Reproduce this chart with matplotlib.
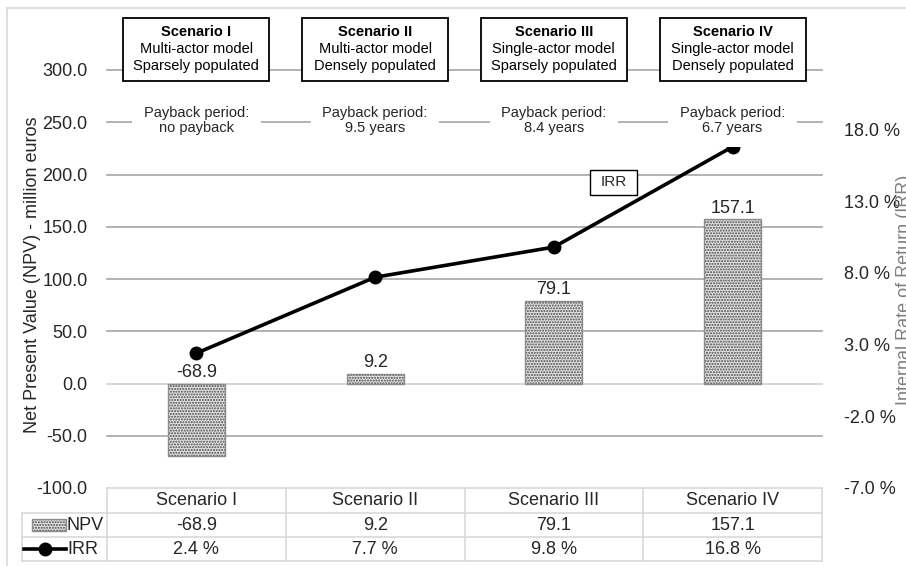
import matplotlib
matplotlib.use("Agg")
import matplotlib.pyplot as plt
from matplotlib.patches import Rectangle
from matplotlib.lines import Line2D
import numpy as np

plt.rcParams['font.family'] = ['Liberation Sans', 'DejaVu Sans']
plt.rcParams['hatch.linewidth'] = 1.0

scenarios = ['Scenario I', 'Scenario II', 'Scenario III', 'Scenario IV']
npv = [-68.9, 9.2, 79.1, 157.1]
irr = [2.4, 7.7, 9.8, 16.8]
models = ['Multi-actor model', 'Multi-actor model', 'Single-actor model', 'Single-actor model']
density = ['Sparsely populated', 'Densely populated', 'Sparsely populated', 'Densely populated']
payback = ['no payback', '9.5 years', '8.4 years', '6.7 years']
npv_ticks = [-100, -50, 0, 50, 100, 150, 200, 250, 300]
irr_ticks = [-7, -2, 3, 8, 13, 18]

W, H = 906, 566
fig = plt.figure(figsize=(W / 100, H / 100), dpi=100)


def fx(px):
    return px / W


def fy(py):
    return 1 - py / H


TXT = '#262626'
GRID = '#a6a6a6'
TBL = '#d9d9d9'
BAR_FACE = '#e2e2e2'
BAR_DOTS = '#4a4a4a'
left_px, right_px, top_px, bot_px = 107, 822, 70, 488
col_w = (right_px - left_px) / len(scenarios)

ax = fig.add_axes([fx(left_px), fy(bot_px), (right_px - left_px) / W, (bot_px - top_px) / H])
ax.set_xlim(-0.5, len(scenarios) - 0.5)
ax.set_ylim(-100, 300)
for s in ax.spines.values():
    s.set_visible(False)
ax.set_xticks([])
ax.set_yticks(npv_ticks)
ax.set_yticklabels([f'{t:.1f}' for t in npv_ticks])
ax.tick_params(axis='y', length=0, pad=14, labelsize=13, labelcolor=TXT)
ax.patch.set_alpha(0)

# horizontal gridlines (the -100 line is the top of the data table)
for t in npv_ticks:
    if t == -100:
        continue
    ax.axhline(t, color=('#d0d0d0' if t == 0 else GRID), lw=1.2, zorder=0, clip_on=False)

# NPV bars: stippled fill plus a thin outline
x = np.arange(len(scenarios))
ax.bar(x, npv, width=0.32, color=BAR_FACE, edgecolor=BAR_DOTS, hatch='......', lw=0, zorder=2)
ax.bar(x, npv, width=0.32, fill=False, edgecolor='#8c8c8c', lw=1.0, zorder=3)
for xi, v in zip(x, npv):
    ax.annotate(f'{v:.1f}', (xi, max(v, 0)), xytext=(0, 8), textcoords='offset points',
                ha='center', va='center', fontsize=13, color=TXT, zorder=4)

# IRR line on the secondary axis
ax2 = ax.twinx()
ax2.set_ylim(-7, 22.15)
ax2.set_yticks(irr_ticks)
ax2.set_yticklabels([f'{t:.1f} %' for t in irr_ticks])
ax2.tick_params(axis='y', length=0, pad=16, labelsize=13, labelcolor=TXT)
for s in ax2.spines.values():
    s.set_visible(False)
ax2.add_patch(Rectangle(((590 - left_px) / (right_px - left_px), (bot_px - 195) / (bot_px - top_px)),
                        47 / (right_px - left_px), 25 / (bot_px - top_px),
                        transform=ax2.transAxes, facecolor='white', edgecolor='black', lw=1.0, zorder=3))
ax2.text((613.5 - left_px) / (right_px - left_px), (bot_px - 182.5) / (bot_px - top_px), 'IRR',
         transform=ax2.transAxes, ha='center', va='center', fontsize=11, color=TXT, zorder=4)
ax2.plot(x, irr, color='black', lw=2.6, marker='o', ms=9, zorder=5)

# axis titles
fig.text(fx(33), fy(275), 'Net Present Value (NPV) - million euros', rotation=90,
         ha='center', va='center', fontsize=13, color=TXT)
fig.text(fx(896), fy(290), 'Internal Rate of Return (IRR)', rotation=90,
         ha='left', va='center', fontsize=13, color='#7f7f7f')

# scenario header boxes and payback notes
for i in range(len(scenarios)):
    cx = left_px + (i + 0.5) * col_w
    fig.add_artist(Rectangle((fx(cx - 73), fy(81)), 146 / W, 63 / H, transform=fig.transFigure,
                             facecolor='white', edgecolor='black', lw=1.3, zorder=2))
    fig.text(fx(cx), fy(32), scenarios[i], ha='center', va='center', fontsize=10.5,
             fontweight='bold', color='black', zorder=3)
    fig.text(fx(cx), fy(49), models[i], ha='center', va='center', fontsize=10.5, color='black', zorder=3)
    fig.text(fx(cx), fy(66), density[i], ha='center', va='center', fontsize=10.5, color='black', zorder=3)
    fig.text(fx(cx), fy(120.5), 'Payback period:\n' + payback[i], ha='center', va='center',
             fontsize=10.5, color=TXT, linespacing=1.15, zorder=3,
             bbox=dict(boxstyle='square,pad=0.8', facecolor='white', edgecolor='none'))

# data table under the plot
row_edges = [488, 513, 537, 561]
row_mid = [(row_edges[k] + row_edges[k + 1]) / 2 for k in range(3)]
key_left = 22


def hline(y, x0, x1):
    fig.add_artist(Line2D([fx(x0), fx(x1)], [fy(y), fy(y)], transform=fig.transFigure,
                          color=TBL, lw=1.2, zorder=1))


def vline(xp, y0, y1):
    fig.add_artist(Line2D([fx(xp), fx(xp)], [fy(y0), fy(y1)], transform=fig.transFigure,
                          color=TBL, lw=1.2, zorder=1))


hline(row_edges[0], left_px, right_px)
for y in row_edges[1:]:
    hline(y, key_left, right_px)
for k in range(len(scenarios) + 1):
    vline(left_px + k * col_w, row_edges[0], row_edges[-1])
vline(key_left, row_edges[1], row_edges[-1])

for i in range(len(scenarios)):
    cx = left_px + (i + 0.5) * col_w
    fig.text(fx(cx), fy(row_mid[0]), scenarios[i], ha='center', va='center', fontsize=13, color=TXT)
    fig.text(fx(cx), fy(row_mid[1]), f'{npv[i]:.1f}', ha='center', va='center', fontsize=13, color=TXT)
    fig.text(fx(cx), fy(row_mid[2]), f'{irr[i]:.1f} %', ha='center', va='center', fontsize=13, color=TXT)

# legend keys inside the table
fig.add_artist(Rectangle((fx(32), fy(531)), 34 / W, 12 / H, transform=fig.transFigure,
                         facecolor=BAR_FACE, edgecolor=BAR_DOTS, hatch='......', lw=0, zorder=2))
fig.add_artist(Rectangle((fx(32), fy(531)), 34 / W, 12 / H, transform=fig.transFigure,
                         fill=False, edgecolor='#8c8c8c', lw=1.0, zorder=3))
fig.text(fx(67), fy(row_mid[1]), 'NPV', ha='left', va='center', fontsize=13, color=TXT)
fig.add_artist(Line2D([fx(24), fx(66)], [fy(row_mid[2]), fy(row_mid[2])], transform=fig.transFigure,
                      color='black', lw=2.6, zorder=2))
fig.add_artist(Line2D([fx(45)], [fy(row_mid[2])], transform=fig.transFigure, color='black',
                      marker='o', ms=9, zorder=3))
fig.text(fx(67), fy(row_mid[2]), 'IRR', ha='left', va='center', fontsize=13, color=TXT)

# chart area frame
fig.add_artist(Line2D([fx(7), 1], [fy(8), fy(8)], transform=fig.transFigure, color=TBL, lw=1.2))
fig.add_artist(Line2D([fx(7), fx(7)], [fy(8), 0], transform=fig.transFigure, color=TBL, lw=1.2))

fig.savefig('out.png', dpi=100)
